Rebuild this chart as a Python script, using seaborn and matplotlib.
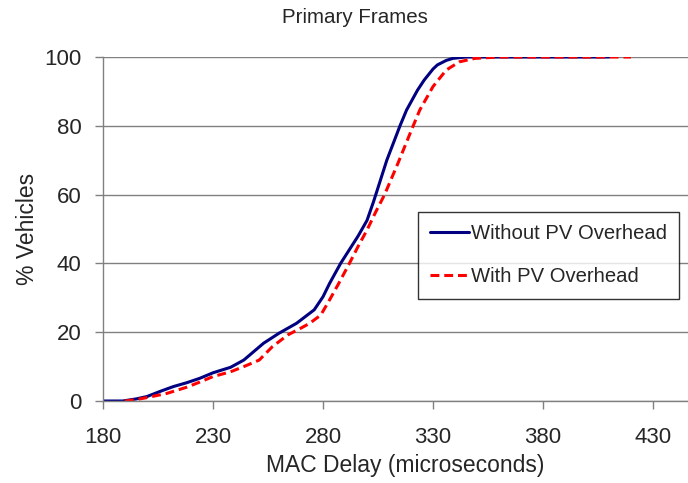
import matplotlib
matplotlib.use("Agg")
import matplotlib.pyplot as plt
import seaborn as sns
import pandas as pd

# data
delay_without = [180, 189, 195, 200, 206, 212, 218, 224, 230, 238, 244, 253, 260, 268, 276,
                 280, 283, 288, 292, 296, 300, 303, 309, 315, 318, 323, 326, 330, 332, 336,
                 339, 345, 360, 380, 400, 410]
pct_without = [0, 0, 0.6, 1.3, 2.8, 4.2, 5.3, 6.6, 8.2, 9.8, 11.9, 16.8, 19.7, 22.6, 26.5,
               30.3, 34.2, 40, 44, 48, 52.5, 58, 70, 80, 84.6, 90.4, 93.3, 96.5, 97.7, 99,
               99.6, 100, 100, 100, 100, 100]
delay_with = [190, 195, 200, 209, 218, 224, 230, 238, 244, 251, 257, 264, 270, 274, 279,
              283, 287, 292, 296, 300, 304, 308, 314, 321, 324, 330, 336, 342, 349, 360,
              380, 400, 420]
pct_with = [0, 0.4, 1.0, 2.2, 4.0, 5.5, 7.1, 8.5, 10, 11.9, 15.8, 19.2, 21.2, 22.6, 25,
            29.4, 34, 40, 45, 49.7, 55, 60, 69, 80, 84.6, 91.4, 96.2, 98.6, 99.6, 100,
            100, 100, 100]
x_ticks = [180, 230, 280, 330, 380, 430]
y_ticks = [0, 20, 40, 60, 80, 100]

sns.set_style("white")
plt.rcParams['font.family'] = ['Liberation Sans', 'DejaVu Sans']

df_a = pd.DataFrame({"delay": delay_without, "pct": pct_without})
df_b = pd.DataFrame({"delay": delay_with, "pct": pct_with})

# plot area runs a little past the right edge of the picture
fig = plt.figure(figsize=(6.88, 4.83), dpi=100)
ax = fig.add_axes([103 / 688, 82 / 483, (707 - 103) / 688, 344 / 483])

sns.lineplot(data=df_a, x="delay", y="pct", ax=ax, color="#000080", linewidth=2.2,
             label="Without PV Overhead", solid_joinstyle="round")
sns.lineplot(data=df_b, x="delay", y="pct", ax=ax, color="#ff0000", linewidth=2.2,
             linestyle=(0, (2.9, 1.6)), label="With PV Overhead")

ax.set_xlim(180, 180 + 604 / 2.2)
ax.set_ylim(0, 100)
ax.set_xticks(x_ticks)
ax.set_yticks(y_ticks)
ax.yaxis.grid(True, color="#808080", linewidth=1)
ax.set_axisbelow(True)
for s in ["top", "right"]:
    ax.spines[s].set_visible(False)
for s in ["left", "bottom"]:
    ax.spines[s].set_color("#808080")
    ax.spines[s].set_linewidth(1)
ax.tick_params(axis="both", direction="out", length=6, width=1, color="#808080",
               labelsize=16, bottom=True, left=True)
ax.tick_params(axis="x", pad=13)
ax.tick_params(axis="y", pad=9.5)
ax.set_xlabel("MAC Delay (microseconds)", fontsize=16.5, labelpad=4)
ax.set_ylabel("% Vehicles", fontsize=16.5, labelpad=4)
fig.text(0.516, 0.963, "Primary Frames", ha="center", va="center", fontsize=14.8)

leg = ax.legend(loc="upper left", bbox_to_anchor=((418 - 103) / 604, (401 - 212) / 344),
                fontsize=14.6, frameon=True, fancybox=False, handlelength=1.9,
                handletextpad=0.1, borderpad=0.6, labelspacing=1.2, borderaxespad=0)
leg.get_frame().set_edgecolor("black")
leg.get_frame().set_linewidth(1)

fig.savefig("out.png", dpi=100)
